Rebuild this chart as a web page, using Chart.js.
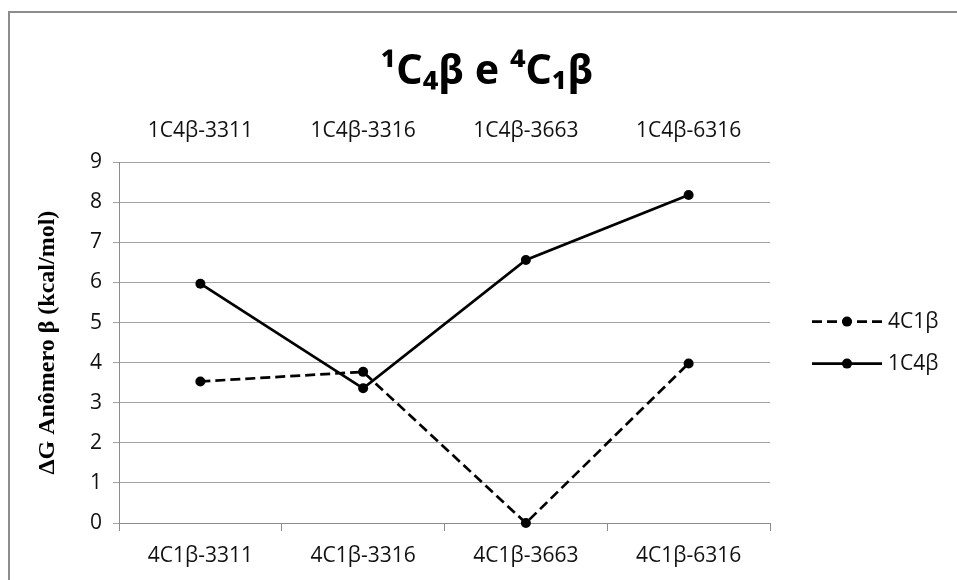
<!DOCTYPE html>
<html>
<head>
<meta charset="utf-8">
<script src="https://cdn.jsdelivr.net/npm/chart.js@4/dist/chart.umd.min.js"></script>
<style>
html,body{margin:0;padding:0;background:#fff;overflow:hidden}
#wrap{position:relative;width:957px;height:580px}
#frame{position:absolute;left:8px;top:11px;width:949px;height:569px;border-left:2px solid #8c8c8c;border-top:2px solid #8c8c8c;box-sizing:border-box;pointer-events:none}
</style>
</head>
<body>
<div id="wrap">
<canvas id="c" width="957" height="580"></canvas>
<div id="frame"></div>
</div>
<script>
// ---- data ----
const titleText = '¹C₄β e ⁴C₁β';
const yAxisTitle = 'ΔG Anômero β (kcal/mol)';
const bottomLabels = ['4C1β-3311', '4C1β-3316', '4C1β-3663', '4C1β-6316'];
const topLabels = ['1C4β-3311', '1C4β-3316', '1C4β-3663', '1C4β-6316'];
const seriesNames = ['4C1β', '1C4β'];
const values4C1b = [3.53, 3.77, 0, 3.98];
const values1C4b = [5.97, 3.36, 6.56, 8.18];
const yMin = 0, yMax = 9, yStep = 1;

// ---- styling ----
const tickFont = {family: "'Open Sans', 'Noto Sans', sans-serif", size: 21};
const gridColor = '#a3a3a3';
const axisColor = '#8c8c8c';

// legend drawn in its own layout box on the right side
const sideLegend = {
  id: 'sideLegend',
  beforeInit(chart) {
    const box = {
      position: 'right', weight: 1000, fullSize: false, options: {},
      left: 0, top: 0, right: 0, bottom: 0, width: 0, height: 0,
      isHorizontal() { return false; },
      getPadding() { return {top: 0, left: 0, right: 0, bottom: 0}; },
      update(maxWidth, maxHeight) { this.width = 187; this.height = maxHeight; },
      draw() {
        const ctx = chart.ctx;
        const ds = chart.data.datasets;
        const gap = 42;
        const x0 = this.left + 42;
        const cy = (this.top + this.bottom) / 2;
        const y0 = cy - gap * (ds.length - 1) / 2;
        ds.forEach((d, i) => {
          const y = y0 + i * gap;
          ctx.save();
          ctx.strokeStyle = d.borderColor;
          ctx.lineWidth = d.borderWidth;
          ctx.setLineDash(d.borderDash || []);
          ctx.beginPath(); ctx.moveTo(x0, y); ctx.lineTo(x0 + 70, y); ctx.stroke();
          ctx.setLineDash([]);
          ctx.fillStyle = d.pointBackgroundColor;
          ctx.beginPath(); ctx.arc(x0 + 35, y, d.pointRadius, 0, Math.PI * 2); ctx.fill();
          ctx.font = tickFont.size + 'px ' + tickFont.family;
          ctx.textBaseline = 'middle';
          ctx.textAlign = 'left';
          ctx.fillStyle = '#111';
          ctx.fillText(d.label, x0 + 76, y);
          ctx.restore();
        });
      }
    };
    Chart.layouts.addBox(chart, box);
  }
};

new Chart(document.getElementById('c'), {
  type: 'line',
  data: {
    labels: bottomLabels,
    datasets: [
      {
        label: seriesNames[0], data: values4C1b,
        borderColor: '#000', borderWidth: 2.7, borderDash: [10, 5],
        pointRadius: 5, pointBackgroundColor: '#000', pointBorderWidth: 0,
        pointStyle: 'circle', tension: 0, clip: false, xAxisID: 'x', yAxisID: 'y'
      },
      {
        label: seriesNames[1], data: values1C4b,
        borderColor: '#000', borderWidth: 2.7, borderDash: [],
        pointRadius: 5, pointBackgroundColor: '#000', pointBorderWidth: 0,
        pointStyle: 'circle', tension: 0, clip: false, xAxisID: 'x', yAxisID: 'y'
      }
    ]
  },
  options: {
    responsive: false,
    animation: false,
    devicePixelRatio: 1,
    layout: {padding: {left: 17, right: 0, top: 0, bottom: 0}},
    plugins: {
      legend: {display: false},
      tooltip: {enabled: false},
      title: {
        display: true, text: titleText, color: '#000',
        font: {family: "'Noto Sans', 'DejaVu Sans', sans-serif", size: 41, weight: 'bold', lineHeight: 1.2},
        padding: {top: 48, bottom: 0}
      }
    },
    scales: {
      x: {
        type: 'category', position: 'bottom', offset: true,
        grid: {display: true, drawOnChartArea: false, drawTicks: true, tickLength: 8, offset: true, color: axisColor, lineWidth: 1},
        border: {display: true, color: axisColor, width: 1},
        ticks: {color: '#111', font: tickFont, padding: 12, maxRotation: 0, autoSkip: false},
        afterFit(s) { s.height = 57; }
      },
      x2: {
        type: 'category', position: 'top', labels: topLabels, offset: true,
        grid: {display: false, drawTicks: false},
        border: {display: false},
        ticks: {color: '#111', font: tickFont, padding: 19, maxRotation: 0, autoSkip: false},
        afterFit(s) { s.height = 65; }
      },
      y: {
        type: 'linear', position: 'left', min: yMin, max: yMax,
        ticks: {stepSize: yStep, color: '#111', font: tickFont, padding: 11},
        grid: {color: gridColor, lineWidth: 1, drawTicks: true, tickLength: 6},
        border: {display: true, color: axisColor, width: 1},
        title: {
          display: true, text: yAxisTitle, color: '#000',
          font: {family: "'Liberation Serif', 'Times New Roman', serif", size: 24, weight: 'bold', lineHeight: 1.2},
          padding: {top: 16, bottom: 0}
        },
        afterFit(s) { s.width = 102; }
      }
    }
  },
  plugins: [sideLegend]
});
</script>
</body>
</html>
